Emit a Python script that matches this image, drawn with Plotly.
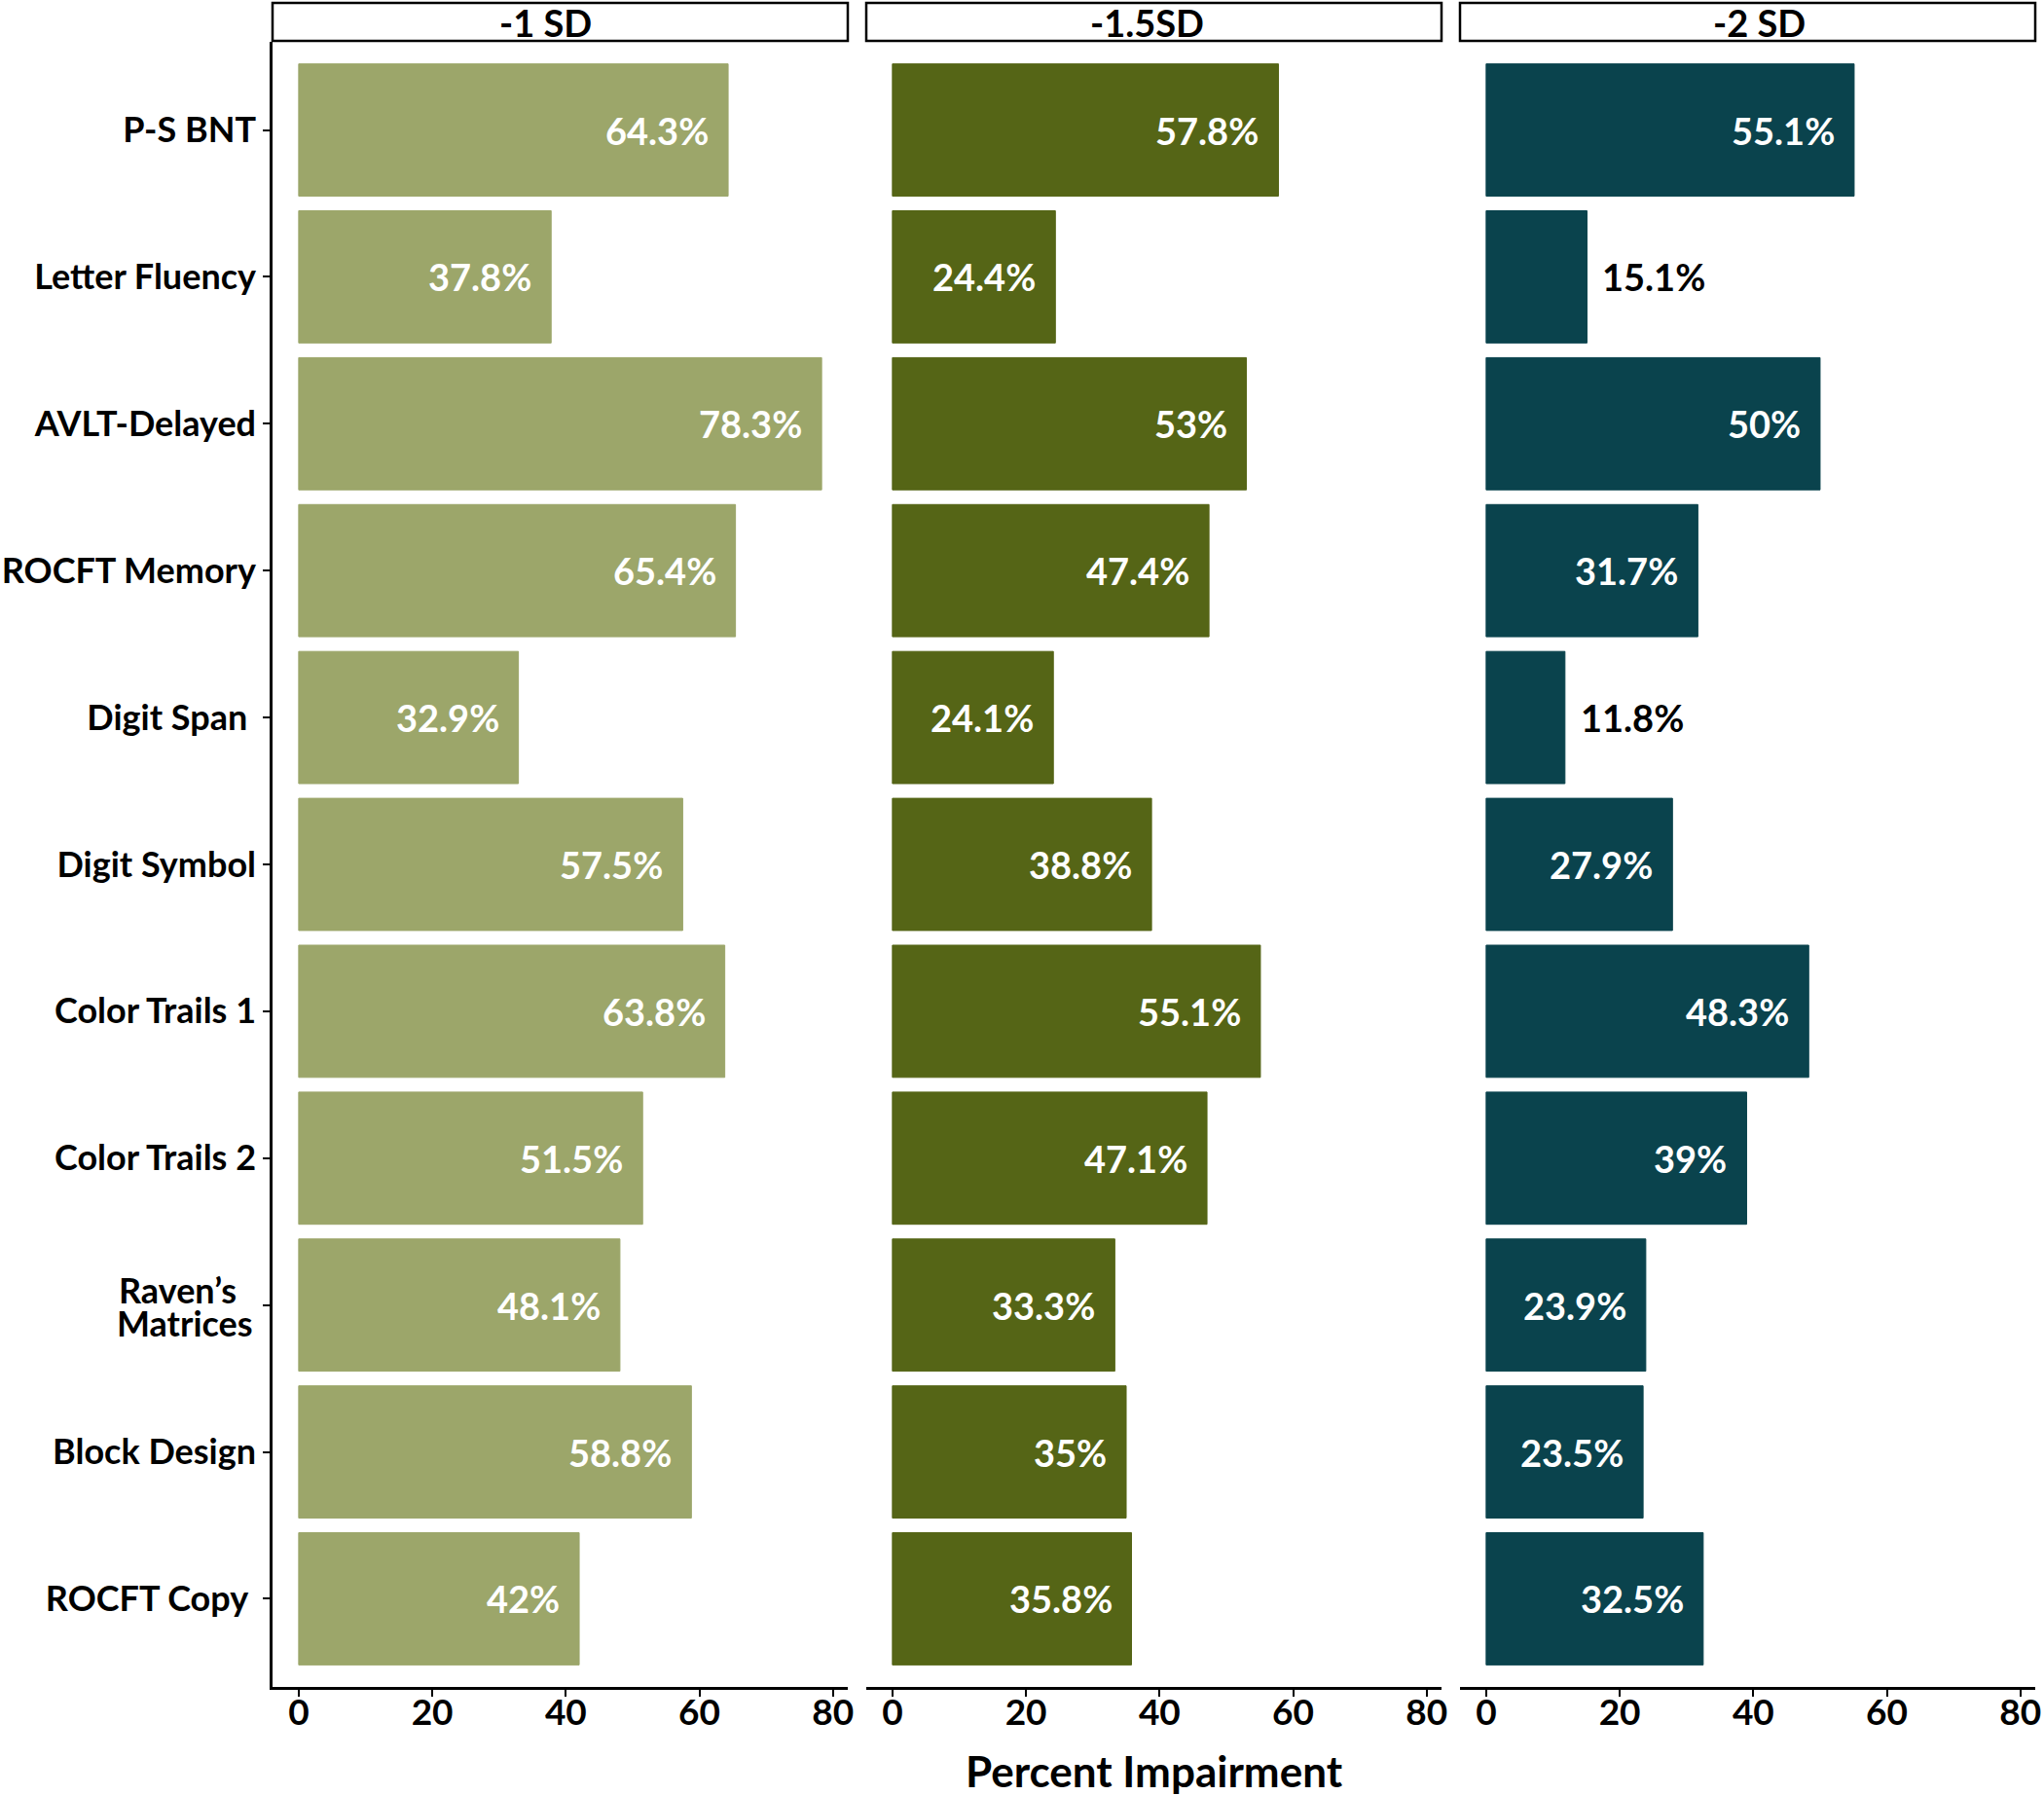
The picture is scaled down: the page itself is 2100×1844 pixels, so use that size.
import plotly.graph_objects as go

# ---- data ----
tests = ["P-S BNT", "Letter Fluency", "AVLT-Delayed", "ROCFT Memory", "Digit Span\u00a0",
         "Digit Symbol", "Color Trails 1", "Color Trails 2", "Raven\u2019s Matrices",
         "Block Design", "ROCFT Copy\u00a0"]
panels = ["-1 SD", "-1.5SD", "-2 SD"]
sd1 = [64.3, 37.8, 78.3, 65.4, 32.9, 57.5, 63.8, 51.5, 48.1, 58.8, 42]
sd15 = [57.8, 24.4, 53, 47.4, 24.1, 38.8, 55.1, 47.1, 33.3, 35, 35.8]
sd2 = [55.1, 15.1, 50, 31.7, 11.8, 27.9, 48.3, 39, 23.9, 23.5, 32.5]
colors = ["#9CA66A", "#556516", "#0A434D"]
x_ticks = [0, 20, 40, 60, 80]
axis_title = "Percent Impairment"

series = [sd1, sd15, sd2]

# ---- style ----
W, H = 2100, 1844
FONT = "Lato"
FS = 38
YFS = 36
WEIGHT = "bold"
strip_text_shift = [-15, -7, 12]

# panel pixel spans
px_spans = [(280, 871), (890, 1481), (1500, 2091)]
plot_top, plot_bottom = 43, 1733
strip_top, strip_bottom = 3, 42

fig = go.Figure()
annotations = []
shapes = []

xaxis_names = ["x", "x2", "x3"]
for i, (vals, col) in enumerate(zip(series, colors)):
    fig.add_trace(go.Bar(
        x=vals, y=tests, orientation="h", width=0.9,
        marker=dict(color=col, line=dict(color=col, width=1)),
        xaxis=xaxis_names[i], yaxis="y", showlegend=False, hoverinfo="x+y",
    ))
    for t, v in zip(tests, vals):
        inside = v >= 20
        annotations.append(dict(
            x=v, y=t, xref=xaxis_names[i], yref="y",
            text=f"{v:g}%", showarrow=False,
            xanchor="right" if inside else "left",
            xshift=-18 if inside else 14,
            yanchor="middle",
            font=dict(family=FONT, size=FS, weight=WEIGHT,
                      color="white" if inside else "black"),
        ))

layout = dict(
    width=W, height=H,
    margin=dict(l=0, r=0, t=0, b=0),
    paper_bgcolor="white", plot_bgcolor="white",
    font=dict(family=FONT, size=FS, color="black", weight=WEIGHT),
    bargap=0.1,
)

ydom = [(H - plot_bottom) / H, (H - plot_top) / H]
for i, (a, b) in enumerate(px_spans):
    key = "xaxis" if i == 0 else f"xaxis{i+1}"
    layout[key] = dict(
        domain=[a / W, b / W], anchor="y",
        range=[-3.915, 82.215],
        tickmode="array", tickvals=x_ticks, ticktext=[str(t) for t in x_ticks],
        ticks="outside", ticklen=7, tickwidth=2, tickcolor="black",
        showline=True, linecolor="black", linewidth=3,
        showgrid=False, zeroline=False, automargin=False,
        ticklabelstandoff=-15,
        tickfont=dict(family=FONT, size=37, color="black", weight=WEIGHT),
        fixedrange=True,
    )
    # strip box
    shapes.append(dict(type="rect", xref="paper", yref="paper",
                       x0=a / W, x1=b / W, y0=(H - strip_bottom) / H, y1=(H - strip_top) / H,
                       line=dict(color="black", width=2.5), fillcolor="white"))
    annotations.append(dict(xref="paper", yref="paper", x=(a + b) / 2 / W,
                            xshift=strip_text_shift[i],
                            y=(H - (strip_bottom + strip_top) / 2) / H,
                            text=panels[i], showarrow=False, xanchor="center", yanchor="middle",
                            font=dict(family=FONT, size=FS, color="black", weight=WEIGHT)))

# tick labels: two-line label drawn as tight annotations
rav = "Raven\u2019s Matrices"
ticktext = ["" if t == rav else t for t in tests]
annotations.append(dict(xref="paper", yref="y", x=245 / W, y=rav, yshift=16,
                        text="Raven\u2019s", showarrow=False, xanchor="right", yanchor="middle",
                        font=dict(family=FONT, size=YFS, color="black", weight=WEIGHT)))
annotations.append(dict(xref="paper", yref="y", x=262 / W, y=rav, yshift=-18,
                        text="Matrices", showarrow=False, xanchor="right", yanchor="middle",
                        font=dict(family=FONT, size=YFS, color="black", weight=WEIGHT)))

layout["yaxis"] = dict(
    domain=ydom, anchor="x",
    type="category", categoryorder="array", categoryarray=tests,
    tickmode="array", tickvals=tests, ticktext=ticktext,
    range=[len(tests) - 0.4, -0.6],
    ticks="outside", ticklen=7, tickwidth=2, tickcolor="black",
    showline=True, linecolor="black", linewidth=2.5,
    showgrid=False, zeroline=False, automargin=False,
    ticklabelstandoff=0,
    tickfont=dict(family=FONT, size=YFS, color="black", weight=WEIGHT),
    fixedrange=True,
)

annotations.append(dict(xref="paper", yref="paper",
                        x=(px_spans[0][0] + px_spans[2][1]) / 2 / W, y=(H - 1819) / H,
                        text=axis_title, showarrow=False, xanchor="center", yanchor="middle",
                        font=dict(family=FONT, size=44, color="black", weight=WEIGHT)))

layout["annotations"] = annotations
layout["shapes"] = shapes
fig.update_layout(**layout)

fig.write_html("out.html", config={"displayModeBar": False},
               post_script="document.body.style.margin='0px';document.body.style.overflow='hidden';")
